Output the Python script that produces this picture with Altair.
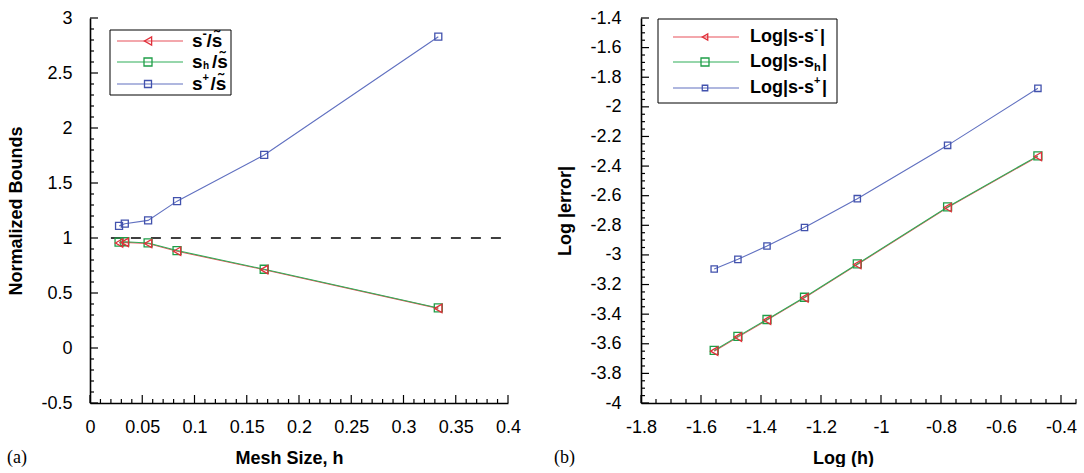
import altair as alt
import numpy as np
import pandas as pd

# ---------------- data ----------------
# panel (a): mesh size h vs normalized bounds
h_a = [0.0278, 0.0333, 0.0556, 0.0833, 0.1667, 0.3333]
s_minus_norm = [0.955, 0.960, 0.950, 0.880, 0.712, 0.360]
s_h_norm = [0.962, 0.966, 0.955, 0.886, 0.716, 0.364]
s_plus_norm = [1.110, 1.130, 1.160, 1.335, 1.755, 2.830]
ref_h = [0.02, 0.4]
ref_val = [1.0, 1.0]

# panel (b): log(h) vs log |error|
log_h = [-1.556, -1.477, -1.380, -1.255, -1.079, -0.778, -0.477]
log_err_minus = [-3.650, -3.555, -3.440, -3.290, -3.065, -2.680, -2.335]
log_err_h = [-3.645, -3.550, -3.436, -3.286, -3.061, -2.676, -2.331]
log_err_plus = [-3.095, -3.030, -2.940, -2.815, -2.620, -2.260, -1.875]

# axis ticks
xa_major = [0, 0.05, 0.1, 0.15, 0.2, 0.25, 0.3, 0.35, 0.4]
ya_major = [-0.5, 0, 0.5, 1, 1.5, 2, 2.5, 3]
xb_major = [-1.8, -1.6, -1.4, -1.2, -1.0, -0.8, -0.6, -0.4]
yb_major = [-4.0, -3.8, -3.6, -3.4, -3.2, -3.0, -2.8, -2.6, -2.4, -2.2, -2.0, -1.8, -1.6, -1.4]


def minor(lo, hi, step, majors):
    vals = np.round(np.arange(lo, hi + step / 2, step), 3)
    return [float(v) for v in vals if not np.any(np.isclose(v, majors))]


xa_minor = minor(0, 0.4, 0.01, xa_major)
ya_minor = minor(-0.5, 3, 0.1, ya_major)
xb_minor = minor(-1.8, -0.35, 0.05, xb_major)
yb_minor = minor(-4, -1.4, 0.05, yb_major)

RED, GREEN, BLUE = "#e0303a", "#1f9e48", "#4252ad"
RED_L, GREEN_L, BLUE_L = "#e8505a", "#2fae58", "#6070c0"

FONT = "Liberation Sans"
W_A, W_B, H = 418, 435, 385

xs_a = alt.Scale(domain=[0, 0.4], nice=False, zero=False)
ys_a = alt.Scale(domain=[-0.5, 3], nice=False, zero=False)
xs_b = alt.Scale(domain=[-1.8, -0.35], nice=False, zero=False)
ys_b = alt.Scale(domain=[-4, -1.4], nice=False, zero=False)


def axis(values, title, label_pad, title_pad, title_x=None):
    kw = dict(values=values, title=title, ticks=False, tickSize=0, grid=False,
              labelExpr="'' + datum.value", labelPadding=label_pad,
              titlePadding=title_pad, labelFlush=False, labelOverlap=False)
    if title_x is not None:
        kw["titleX"] = title_x
    return alt.Axis(**kw)


class Panel:
    def __init__(self, xs, ys, xax, yax):
        self.xs, self.ys, self.xax, self.yax = xs, ys, xax, yax

    def X(self, f="x:Q"):
        return alt.X(f, scale=self.xs, axis=self.xax)

    def Y(self, f="y:Q"):
        return alt.Y(f, scale=self.ys, axis=self.yax)

    def line(self, x, y, color, width=1.1, dash=None):
        df = pd.DataFrame({"x": x, "y": y})
        kw = dict(color=color, strokeWidth=width)
        if dash:
            kw["strokeDash"] = dash
        return alt.Chart(df).mark_line(**kw).encode(x=self.X(), y=self.Y())

    def points(self, x, y, color, shape, size):
        df = pd.DataFrame({"x": x, "y": y})
        return alt.Chart(df).mark_point(shape=shape, size=size, filled=False, color=color,
                                        strokeWidth=1.3, opacity=1).encode(x=self.X(), y=self.Y())

    def ticks(self, xmaj, xmin, ymaj, ymin):
        out = []
        for vals, ln in ((xmaj, 8), (xmin, 4)):
            out.append(alt.Chart(pd.DataFrame({"v": vals})).mark_rule(color="black", strokeWidth=1.2).encode(
                x=self.X("v:Q"), y=alt.value(H), y2=alt.value(H - ln)))
        for vals, ln in ((ymaj, 8), (ymin, 4)):
            out.append(alt.Chart(pd.DataFrame({"v": vals})).mark_rule(color="black", strokeWidth=1.2).encode(
                y=self.Y("v:Q"), x=alt.value(0), x2=alt.value(ln)))
        return out


def txt(s, x, y, size=18, weight="bold", font=FONT, align="left"):
    return alt.Chart(pd.DataFrame({"t": [s]})).mark_text(
        font=font, fontSize=size, fontWeight=weight, align=align, baseline="middle", color="black"
    ).encode(x=alt.value(x), y=alt.value(y), text="t:N")


def legend(box, rows, line_x, marker_x, text_x, entries):
    x0, x1, y0, y1 = box
    lay = [alt.Chart(pd.DataFrame({"a": [0]})).mark_rect(fill="white", stroke="black", strokeWidth=1).encode(
        x=alt.value(x0), x2=alt.value(x1), y=alt.value(y0), y2=alt.value(y1))]
    for ry, (color, lcolor, shape, size, parts) in zip(rows, entries):
        lay.append(alt.Chart(pd.DataFrame({"a": [0]})).mark_rule(color=lcolor, strokeWidth=1.1).encode(
            x=alt.value(line_x[0]), x2=alt.value(line_x[1]), y=alt.value(ry)))
        lay.append(alt.Chart(pd.DataFrame({"a": [0]})).mark_point(
            shape=shape, size=size, filled=False, color=color, strokeWidth=1.3, opacity=1).encode(
            x=alt.value(marker_x), y=alt.value(ry)))
        for (s, dx, dy, fs) in parts:
            lay.append(txt(s, text_x + dx, ry + dy, size=fs))
    return lay


# ---------------- panel (a) ----------------
pa = Panel(xs_a, ys_a,
           axis(xa_major, "Mesh Size, h", 15, 13, title_x=199),
           axis(ya_major, "Normalized Bounds", 18, 15))

leg_a = legend(
    box=(20, 141, 12, 77), rows=[23, 44, 66], line_x=(27, 93), marker_x=58, text_x=102,
    entries=[
        (RED, RED_L, "triangle-left", 70,
         [("s", 0, 0, 19), ("-", 10.5, -7, 13), ("/s\u0303", 14.5, 0, 19)]),
        (GREEN, GREEN_L, "square", 64,
         [("s", 0, 0, 19), ("h", 11, 4, 10), ("/s\u0303", 20, 0, 19)]),
        (BLUE, BLUE_L, "square", 49,
         [("s", 0, 0, 19), ("+", 10.5, -6, 11), ("/s\u0303", 18.5, 0, 19)]),
    ])

panel_a = alt.layer(
    pa.line(ref_h, ref_val, "black", width=1.6, dash=[10, 10]),
    pa.line(h_a, s_minus_norm, RED_L),
    pa.line(h_a, s_h_norm, GREEN_L),
    pa.line(h_a, s_plus_norm, BLUE_L),
    pa.points(h_a, s_h_norm, GREEN, "square", 64),
    pa.points(h_a, s_minus_norm, RED, "triangle-left", 70),
    pa.points(h_a, s_plus_norm, BLUE, "square", 49),
    *pa.ticks(xa_major, xa_minor, ya_major, ya_minor),
    *leg_a,
    txt("(a)", -83, H + 55, size=18, weight="normal", font="Liberation Serif"),
).properties(width=W_A, height=H)

# ---------------- panel (b) ----------------
pb = Panel(xs_b, ys_b,
           axis(xb_major, "Log (h)", 15, 13, title_x=202),
           axis(yb_major, "Log |error|", 20, 15))

leg_b = legend(
    box=(17, 196, 1, 85), rows=[19, 44, 70], line_x=(32, 98), marker_x=64, text_x=109,
    entries=[
        (RED, RED_L, "triangle-left", 40,
         [("Log|s-s", 0, 0, 18), ("-", 64, -7, 12), ("|", 70, 0, 18)]),
        (GREEN, GREEN_L, "square", 64,
         [("Log|s-s", 0, 0, 18), ("h", 64, 6, 11), ("|", 72, 0, 18)]),
        (BLUE, BLUE_L, "square", 30,
         [("Log|s-s", 0, 0, 18), ("+", 64, -7, 11), ("|", 72, 0, 18)]),
    ])

panel_b = alt.layer(
    pb.line(log_h, log_err_minus, RED_L),
    pb.line(log_h, log_err_h, GREEN_L),
    pb.line(log_h, log_err_plus, BLUE_L),
    pb.points(log_h, log_err_h, GREEN, "square", 64),
    pb.points(log_h, log_err_minus, RED, "triangle-left", 70),
    pb.points(log_h, log_err_plus, BLUE, "square", 40),
    *pb.ticks(xb_major, xb_minor, yb_major, yb_minor),
    *leg_b,
    txt("(b)", -87, H + 55, size=18, weight="normal", font="Liberation Serif"),
).properties(width=W_B, height=H)

chart = alt.hconcat(panel_a, panel_b, spacing=33).properties(
    padding={"left": 7, "top": 9, "right": 0, "bottom": 0}
).configure_view(stroke=None).configure_axis(
    domainColor="black", domainWidth=1.6,
    labelFont=FONT, labelFontSize=18, labelColor="black",
    titleFont=FONT, titleFontSize=18, titleFontWeight="bold", titleColor="black",
)

chart.save("out.html", embed_options={"renderer": "svg", "actions": False})
